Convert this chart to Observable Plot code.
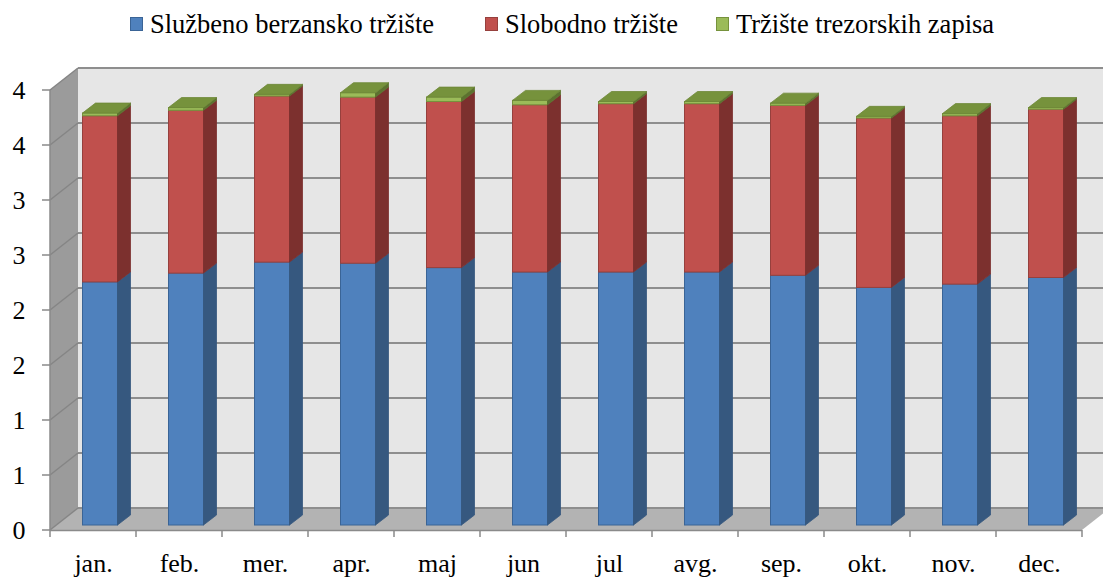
<!DOCTYPE html>
<html><head><meta charset="utf-8">
<script src="https://cdn.jsdelivr.net/npm/d3@7"></script>
<script src="https://cdn.jsdelivr.net/npm/@observablehq/plot@0.6"></script>
<style>
html,body{margin:0;padding:0;background:#fff;overflow:hidden;}
#legend{position:relative;width:1103px;height:48px;font-family:"Liberation Serif","Times New Roman",serif;font-size:26.5px;color:#000;}
.item{position:absolute;top:7px;height:34px;display:flex;align-items:center;white-space:nowrap;}
.sw{width:13px;height:14px;margin-right:7px;box-sizing:border-box;border:1px solid;}
</style></head><body>
<div id="legend"></div><div id="chart"></div>
<script>
const months = ["jan.","feb.","mer.","apr.","maj","jun","jul","avg.","sep.","okt.","nov.","dec."];
const sluzbeno = [2.21,2.29,2.39,2.38,2.34,2.30,2.30,2.30,2.27,2.16,2.19,2.25];
const slobodno = [1.51,1.48,1.51,1.51,1.51,1.52,1.53,1.53,1.545,1.54,1.53,1.53];
const trezor = [0.025,0.025,0.015,0.04,0.04,0.04,0.02,0.02,0.02,0.015,0.02,0.015];
const seriesNames = ["Službeno berzansko tržište","Slobodno tržište","Tržište trezorskih zapisa"];
const yTicks = [0,0.5,1,1.5,2,2.5,3,3.5,4];
const yTickLabels = ["0","1","1","2","2","3","3","4","4"];

const frontColors = ["#4F81BD","#C0504D","#9BBB59"];
const strokeColors = ["#3A6496","#96403D","#76923C"];
const sideColors = ["#36587F","#7C302E","#5C722F"];
const topColors = ["#6B95CB","#D06C69","#76923C"];
const legendLeft = [130, 485, 716];

// 3D geometry (pixels)
const WX = 28, WY = 22;          // wall depth offset
const BDX = 7, BDY = -5;         // bar front offset from front plane
const BX = 13, BY = 10;          // bar depth
const INSET = 25.5;

const rows = [];
months.forEach((m, i) => {
  const vals = [sluzbeno[i], slobodno[i], trezor[i]];
  let acc = 0;
  vals.forEach((v, k) => {
    rows.push({month: m, series: seriesNames[k], k, y1: acc, y2: acc + v, top: k === 2});
    acc += v;
  });
});

// legend
const leg = document.getElementById("legend");
seriesNames.forEach((n, k) => {
  const it = document.createElement("div");
  it.className = "item";
  it.style.left = legendLeft[k] + "px";
  it.innerHTML = `<span class="sw" style="background:${frontColors[k]};border-color:${strokeColors[k]}"></span><span>${n}</span>`;
  leg.appendChild(it);
});

const pts = a => a.map(p => p.join(",")).join(" ");

function walls(index, scales, values, dims) {
  const {y} = scales;
  const L = dims.marginLeft, R = dims.width - dims.marginRight;
  const y0 = y(0), y4 = y(4);
  const g = d3.create("svg:g");
  g.append("rect").attr("x", L + WX).attr("y", y4 - WY).attr("width", R - L).attr("height", y0 - y4).attr("fill", "#e6e6e6");
  g.append("polygon").attr("points", pts([[L, y0], [L, y4], [L + WX, y4 - WY], [L + WX, y0 - WY]]))
    .attr("fill", "#9b9b9b");
  g.append("polygon").attr("points", pts([[L, y0], [R, y0], [R + WX, y0 - WY], [L + WX, y0 - WY]]))
    .attr("fill", "#b3b3b3");
  for (const t of yTicks) {
    const yy = y(t);
    g.append("line").attr("x1", L + WX).attr("x2", R + WX).attr("y1", yy - WY).attr("y2", yy - WY)
      .attr("stroke", "#8e8e8e").attr("stroke-width", 2);
    g.append("line").attr("x1", L).attr("x2", L + WX).attr("y1", yy).attr("y2", yy - WY)
      .attr("stroke", "#858585").attr("stroke-width", 1.5);
  }
  return g.node();
}

function barFaces(index, scales, values, dims) {
  const {x, y} = scales;
  const bw = x.bandwidth();
  const g = d3.create("svg:g");
  for (const r of rows) {
    const x0 = x(r.month) + INSET + BDX;
    const x1 = x(r.month) + bw - INSET + BDX;
    const yt = y(r.y2) + BDY, yb = y(r.y1) + BDY;
    g.append("polygon").attr("points", pts([[x1, yb], [x1, yt], [x1 + BX, yt - BY], [x1 + BX, yb - BY]]))
      .attr("fill", sideColors[r.k]).attr("stroke", sideColors[r.k]).attr("stroke-width", 0.8);
    if (r.top) {
      g.append("polygon").attr("points", pts([[x0, yt], [x1, yt], [x1 + BX, yt - BY], [x0 + BX, yt - BY]]))
        .attr("fill", topColors[r.k]).attr("stroke", "#6d8837").attr("stroke-width", 0.8);
    }
  }
  return g.node();
}

function axes(index, scales, values, dims) {
  const {x, y} = scales;
  const L = dims.marginLeft, R = dims.width - dims.marginRight;
  const y0 = y(0), y4 = y(4);
  const g = d3.create("svg:g").attr("stroke", "#8a8a8a").attr("stroke-width", 1.5);
  g.append("line").attr("x1", L).attr("x2", L).attr("y1", y0).attr("y2", y4);
  g.append("line").attr("x1", L).attr("x2", R).attr("y1", y0 + 0.5).attr("y2", y0 + 0.5);
  for (const t of yTicks) g.append("line").attr("x1", L - 8).attr("x2", L).attr("y1", y(t)).attr("y2", y(t));
  const bw = x.bandwidth();
  const edges = months.map(m => x(m)).concat([x(months[months.length - 1]) + bw]);
  for (const e of edges) g.append("line").attr("x1", e).attr("x2", e).attr("y1", y0).attr("y2", y0 + 7);
  return g.node();
}

const plot = Plot.plot({
  width: 1103,
  height: 529,
  marginLeft: 50,
  marginRight: 21,
  marginTop: 42,
  marginBottom: 47,
  style: {fontFamily: "'Liberation Serif','Times New Roman',serif", fontSize: "26px", color: "#000", background: "transparent", overflow: "hidden"},
  x: {domain: months, padding: 0, tickSize: 0, tickPadding: 23, label: null},
  y: {domain: [0, 4], ticks: yTicks, tickFormat: d => yTickLabels[yTicks.indexOf(d)], tickSize: 0, tickPadding: 25, label: null},
  marks: [
    walls,
    Plot.rectY(rows, {x: "month", y1: "y1", y2: "y2", fill: d => frontColors[d.k], stroke: d => strokeColors[d.k], strokeWidth: 1,
      insetLeft: INSET, insetRight: INSET, dx: BDX, dy: BDY}),
    barFaces,
    axes
  ]
});
document.getElementById("chart").appendChild(plot);
</script>
</body></html>
